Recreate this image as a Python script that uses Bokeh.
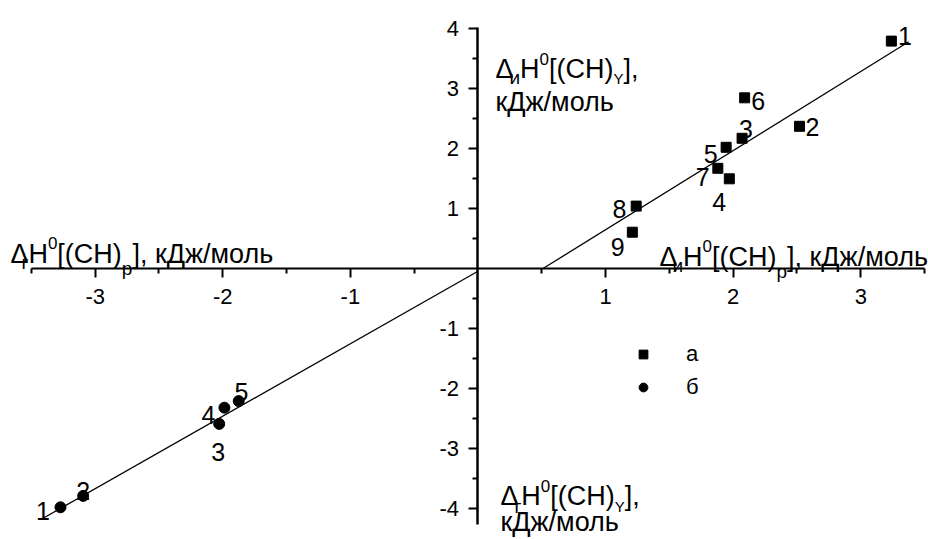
from bokeh.plotting import figure
from bokeh.models import (LinearAxis, FixedTicker, ColumnDataSource, Legend,
                          LegendItem)
from bokeh.core.properties import value
from bokeh.embed import file_html
from bokeh.resources import INLINE

# ---------------- data ----------------
# series "а" (squares)
a_id = ["1", "2", "3", "4", "5", "6", "7", "8", "9"]
a_x = [3.24, 2.52, 2.07, 1.97, 1.945, 2.09, 1.88, 1.24, 1.21]
a_y = [3.79, 2.37, 2.17, 1.495, 2.02, 2.845, 1.67, 1.04, 0.605]
# series "б" (circles)
b_id = ["1", "2", "3", "4", "5"]
b_x = [-3.272, -3.094, -2.028, -1.987, -1.875]
b_y = [-3.98, -3.79, -2.59, -2.32, -2.21]
# straight lines (end points)
fit_a_x = [0.51, 3.376]
fit_a_y = [0.0, 3.78]
fit_b_x = [-3.415, 0.0]
fit_b_y = [-4.172, -0.045]
# ticks
x_ticks = [-3, -2, -1, 1, 2, 3]
x_tick_labels = ["-3", "-2", "-1", "1", "2", "3"]
x_minor_ticks = [-3.5, -2.5, -1.5, -0.5, 0.5, 1.5, 2.5, 3.5]
y_ticks = [-4, -3, -2, -1, 1, 2, 3, 4]
y_tick_labels = ["-4", "-3", "-2", "-1", "1", "2", "3", "4"]
y_minor_ticks = [-3.5, -2.5, -1.5, -0.5, 0.5, 1.5, 2.5, 3.5]
legend_labels = ["а", "б"]

# ---------------- styling / placement ----------------
FONT = "Liberation Sans"
a_lab_dx = [6.6, 6, -3, -17, -22.4, 6.7, -22, -23.7, -21.6]
a_lab_dy = [-4.7, 0.7, -9.7, 23.4, 6.6, 2.7, 9, 2.6, 15]
b_lab_dx = [-24.4, -7, -8, -23, -4.3]
b_lab_dy = [3.3, -5.3, 28.4, 7.7, -9]

W, H = 928, 539
p = figure(width=W, height=H, x_range=(-3.742, 3.531), y_range=(-4.517, 4.467),
           output_backend="svg", toolbar_location=None,
           x_axis_location=None, y_axis_location=None,
           min_border=0, min_border_left=0, min_border_right=0,
           min_border_top=0, min_border_bottom=0)
p.outline_line_color = None
p.background_fill_color = "white"
p.border_fill_color = "white"
p.xgrid.grid_line_color = None
p.ygrid.grid_line_color = None
for g in p.grid:
    g.visible = False

def style_axis(ax, ticks, minor, labels, bounds):
    ax.ticker = FixedTicker(ticks=ticks, minor_ticks=minor)
    ax.major_label_overrides = {t: l for t, l in zip(ticks, labels)}
    ax.bounds = bounds
    ax.fixed_location = 0
    ax.axis_line_color = "black"
    ax.major_tick_line_color = "black"
    ax.minor_tick_line_color = "black"
    ax.major_tick_in = 0
    ax.minor_tick_in = 0
    ax.major_tick_out = 9
    ax.minor_tick_out = 5
    ax.major_label_text_font = FONT
    ax.major_label_text_font_size = "22px"
    ax.major_label_text_color = "black"

xax = LinearAxis()
style_axis(xax, x_ticks, x_minor_ticks, x_tick_labels, (-3.5, 3.5))
xax.axis_line_width = 2
xax.major_tick_line_width = 2
xax.minor_tick_line_width = 2
xax.major_label_standoff = 11
p.add_layout(xax, "below")

yax = LinearAxis()
style_axis(yax, y_ticks, y_minor_ticks, y_tick_labels, (-4.26, 4.02))
yax.axis_line_width = 2.5
yax.major_tick_line_width = 2
yax.minor_tick_line_width = 2
yax.major_label_standoff = 10
p.add_layout(yax, "left")

# lines
p.line(fit_a_x, fit_a_y, line_color="black", line_width=1.3)
p.line(fit_b_x, fit_b_y, line_color="black", line_width=1.3)

# points
src_a = ColumnDataSource(dict(x=a_x, y=a_y, t=a_id, dx=a_lab_dx, dy=a_lab_dy))
src_b = ColumnDataSource(dict(x=b_x, y=b_y, t=b_id, dx=b_lab_dx, dy=b_lab_dy))
ra = p.scatter("x", "y", source=src_a, marker="square", size=10,
               fill_color="black", line_color="black")
rb = p.scatter("x", "y", source=src_b, marker="circle", size=11,
               fill_color="black", line_color="black")

for src in (src_a, src_b):
    p.text("x", "y", text="t", source=src, x_offset="dx", y_offset="dy",
           text_font=value(FONT), text_font_size="25px", text_color="black",
           text_align="left", text_baseline="alphabetic")

# ---------------- rich axis titles ----------------
ADV = {"Δ": 0.667, "H": 0.722, "0": 0.556, "[": 0.278, "(": 0.333, "C": 0.722,
       ")": 0.333, "]": 0.278, ",": 0.278, " ": 0.278, "к": 0.438, "Д": 0.677,
       "ж": 0.669, "/": 0.278, "м": 0.688, "о": 0.556, "л": 0.583, "ь": 0.521,
       "г": 0.365, "и": 0.559, "р": 0.556, "Y": 0.667}

def text_w(s, size):
    return sum(ADV.get(c, 0.556) for c in s) * size

MAIN, SUB, SUP = 27, 19, 17

def rich_title(x, y, pieces, line2=None, line2_dy=0):
    """pieces: list of (text, size, dy, kern)"""
    xs, ys, ts, xo, yo, fs = [], [], [], [], [], []
    cur = 0.0
    for txt, size, dy, kern in pieces:
        cur += kern
        xs.append(x); ys.append(y); ts.append(txt)
        xo.append(cur); yo.append(dy); fs.append(f"{size}px")
        cur += text_w(txt, size)
    if line2 is not None:
        xs.append(x); ys.append(y); ts.append(line2)
        xo.append(0); yo.append(line2_dy); fs.append(f"{MAIN}px")
    src = ColumnDataSource(dict(x=xs, y=ys, t=ts, xo=xo, yo=yo, fs=fs))
    p.text("x", "y", text="t", source=src, x_offset="xo", y_offset="yo",
           text_font_size="fs", text_font=value(FONT), text_color="black",
           text_align="left", text_baseline="alphabetic")

# x title, left part
rich_title(-3.664, 0.245, [("Δ", MAIN, 0, 0), ("г", SUB, 9, -7), ("H", MAIN, 0, 0),
                           ("0", SUP, -11, 0), ("[(CH)", MAIN, 0, 0),
                           ("р", SUB, 15, 0), ("], кДж/моль", MAIN, 0, 0)])
# x title, right part
rich_title(1.422, 0.2, [("Δ", MAIN, 0, 0), ("и", SUB, 9, -5), ("H", MAIN, 0, 0),
                        ("0", SUP, -11, 0), ("[(CH)", MAIN, 0, 0),
                        ("р", SUB, 15, 0), ("], кДж/моль", MAIN, 0, 0)])
# y title, top
rich_title(0.137, 3.328, [("Δ", MAIN, 0, 0), ("и", SUB, 9, -4), ("H", MAIN, 0, 0),
                          ("0", SUP, -10, 0), ("[(CH)", MAIN, 0, 0),
                          ("Y", 15, 10, 0), ("],", MAIN, 0, 0)],
           line2="кДж/моль", line2_dy=33.4)
# y title, bottom
rich_title(0.176, -3.80, [("Δ", MAIN, 0, 0), ("г", SUB, 10, -4), ("H", MAIN, 0, 0),
                          ("0", SUP, -10, 0), ("[(CH)", MAIN, 0, 0),
                          ("Y", 15, 10, 0), ("],", MAIN, 0, 0)],
           line2="кДж/моль", line2_dy=26)

# ---------------- legend ----------------
legend = Legend(items=[LegendItem(label=legend_labels[0], renderers=[ra]),
                       LegendItem(label=legend_labels[1], renderers=[rb])],
                location=(632, 139), orientation="vertical",
                border_line_color=None, background_fill_alpha=0,
                padding=0, margin=0, spacing=7,
                glyph_width=22, glyph_height=22, label_height=22,
                label_standoff=32, label_text_font=FONT,
                label_text_font_size="22px", label_text_color="black")
p.add_layout(legend)

open("out.html", "w").write(file_html(p, INLINE))
